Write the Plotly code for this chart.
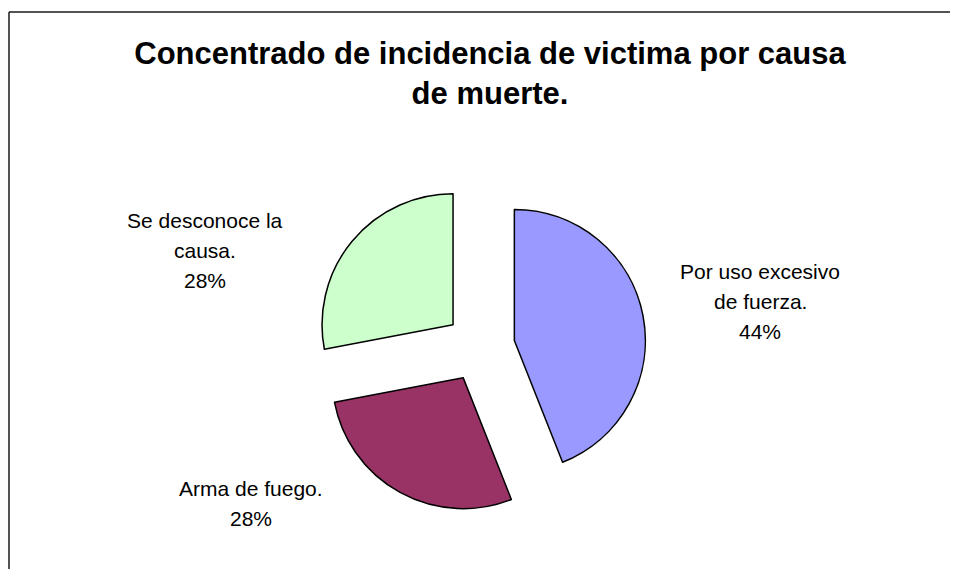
import plotly.graph_objects as go

# ---- data ----
labels = ["Por uso excesivo<br>de fuerza.", "Arma de fuego.", "Se desconoce la<br>causa."]
values = [44, 28, 28]
colors = ["#9999FF", "#993366", "#CCFFCC"]
title_text = "Concentrado de incidencia de victima por causa<br>de muerte."

# page has an 8px body margin; figure sized to fill the rest of the 958x569 window
OFF = 8
W, H = 958 - OFF, 569 - OFF
FONT = "Liberation Sans, Arial, sans-serif"


def px_x(x):
    return (x - OFF) / W


def px_y(y):
    return 1 - (y - OFF) / H


cx, cy, r = 480, 347, 131
half = r * (1 + 0.267)
fig = go.Figure()
fig.add_trace(go.Pie(
    labels=labels,
    values=values,
    marker=dict(colors=colors, line=dict(color="#000000", width=1.5)),
    sort=False,
    direction="clockwise",
    rotation=0,
    pull=[0.267, 0.267, 0.267],
    textinfo="none",
    hoverinfo="label+percent",
    showlegend=False,
    domain=dict(x=[px_x(cx - half), px_x(cx + half)], y=[px_y(cy + half), px_y(cy - half)]),
))

# label anchor positions (page pixels, layout only)
label_pos = [(760, 301), (251, 503), (205, 250)]
total = sum(values)
annotations = []
for lab, v, (px, py) in zip(labels, values, label_pos):
    lines = lab.split("<br>") + [f"{round(100 * v / total)}%"]
    n = len(lines)
    for i, ln in enumerate(lines):
        y = py + (i - (n - 1) / 2) * 30
        annotations.append(dict(
            text=ln, x=px_x(px), y=px_y(y), xref="paper", yref="paper",
            xanchor="center", yanchor="middle", showarrow=False,
            font=dict(family=FONT, size=21, color="#000000"),
        ))

fig.update_layout(
    width=W, height=H,
    margin=dict(l=0, r=0, t=0, b=0),
    paper_bgcolor="#FFFFFF",
    plot_bgcolor="#FFFFFF",
    title=dict(
        text=title_text, x=px_x(490), xanchor="center",
        y=1 - 56 / H, yanchor="top", yref="container",
        font=dict(family=FONT, size=31, color="#000000", weight="bold"),
    ),
    annotations=annotations,
    shapes=[
        dict(type="line", xref="paper", yref="paper", x0=px_x(9), x1=px_x(9), y0=-0.05, y1=px_y(12),
             line=dict(color="#1a1a1a", width=1.5)),
        dict(type="line", xref="paper", yref="paper", x0=px_x(9), x1=1.05, y0=px_y(12), y1=px_y(12),
             line=dict(color="#1a1a1a", width=1.5)),
    ],
)

fig.write_html("out.html")
